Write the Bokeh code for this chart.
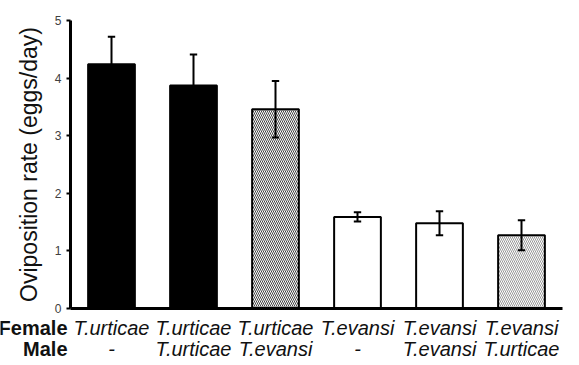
from bokeh.plotting import figure
from bokeh.models import Range1d, FixedTicker, ColumnDataSource
from bokeh.core.properties import value
from bokeh.embed import file_html
from bokeh.resources import INLINE

# ---- data ----
female = ["T.urticae", "T.urticae", "T.urticae", "T.evansi", "T.evansi", "T.evansi"]
male = ["-", "T.urticae", "T.evansi", "-", "T.evansi", "T.urticae"]
rate = [4.24, 3.87, 3.46, 1.59, 1.48, 1.27]
err = [0.48, 0.54, 0.49, 0.08, 0.21, 0.26]
y_ticks = [0, 1, 2, 3, 4, 5]
row_titles = ["Female", "Male"]

# ---- styles ----
fills = ["black", "black", "white", "white", "white", "white"]
hatches = [" ", " ", "\\", " ", " ", "\\"]
hatch_cols = ["black", "black", "#444444", "black", "black", "#999999"]

FONT = "Liberation Sans"
n = len(rate)
xs = list(range(n))

# frame fills the canvas; axes are pinned at x=-0.5 and y=0
px_x = 82.0   # pixels per category
px_y = 57.6   # pixels per unit
x0 = -0.5 - 70 / px_x
x1 = (n - 0.5) + 17 / px_x
y1 = 5 + 20 / px_y
y0 = -(365 - 308) / px_y

p = figure(width=579, height=365, output_backend="svg", toolbar_location=None,
           x_range=Range1d(x0, x1), y_range=Range1d(y0, y1),
           min_border=0, min_border_left=0, min_border_right=0,
           min_border_top=0, min_border_bottom=0)
p.outline_line_color = None
p.grid.visible = False
p.background_fill_color = "white"
p.border_fill_color = "white"

src = ColumnDataSource(dict(x=xs, top=rate, fill=fills, hatch=hatches, hc=hatch_cols,
                            lo=[r - e for r, e in zip(rate, err)],
                            hi=[r + e for r, e in zip(rate, err)],
                            cl=[x - 0.045 for x in xs], cr=[x + 0.045 for x in xs]))
p.vbar(x="x", top="top", bottom=0, width=0.57, source=src, fill_color="fill",
       line_color="black", line_width=2, hatch_pattern="hatch", hatch_color="hc",
       hatch_scale=4, hatch_weight=1)
p.segment(x0="x", y0="lo", x1="x", y1="hi", source=src, line_color="black", line_width=2)
p.segment(x0="cl", y0="hi", x1="cr", y1="hi", source=src, line_color="black", line_width=2)
p.segment(x0="cl", y0="lo", x1="cr", y1="lo", source=src, line_color="black", line_width=2)

# axes
p.xaxis.fixed_location = 0
p.xaxis.bounds = (-0.5, n - 0.5)
p.xaxis.major_tick_line_color = None
p.xaxis.minor_tick_line_color = None
p.xaxis.major_label_text_font_size = "0px"
p.xaxis.axis_line_width = 3
p.xaxis.ticker = FixedTicker(ticks=[])

p.yaxis.fixed_location = -0.5
p.yaxis.bounds = (0, 5)
p.yaxis.ticker = FixedTicker(ticks=y_ticks)
p.yaxis.axis_line_width = 3
p.yaxis.major_tick_line_width = 2
p.yaxis.major_tick_out = 4
p.yaxis.major_tick_in = 0
p.yaxis.minor_tick_line_color = None
p.yaxis.major_label_text_font = FONT
p.yaxis.major_label_text_font_size = "12px"
p.yaxis.major_label_text_color = "#404040"
p.yaxis.major_label_standoff = 5
p.yaxis.axis_label = "Oviposition rate (eggs/day)"
p.yaxis.axis_label_text_font = FONT
p.yaxis.axis_label_text_font_size = "23px"
p.yaxis.axis_label_text_font_style = "normal"
p.yaxis.axis_label_text_color = "#111111"
p.yaxis.axis_label_standoff = 10

# category labels
row_y = [-19 / px_y, -40 / px_y]
lab = ColumnDataSource(dict(x=xs + xs, y=[row_y[0]] * n + [row_y[1]] * n, t=female + male))
p.text(x="x", y="y", text="t", source=lab, text_align="center", text_baseline="middle",
       text_font=value(FONT), text_font_size="20px", text_font_style="italic",
       text_color="#111111")
ttl = ColumnDataSource(dict(x=[-0.5 - 3 / px_x] * 2, y=row_y, t=row_titles))
p.text(x="x", y="y", text="t", source=ttl, text_align="right", text_baseline="middle",
       text_font=value(FONT), text_font_size="20px", text_font_style="bold",
       text_color="#111111")

open("out.html", "w").write(file_html(p, INLINE))
